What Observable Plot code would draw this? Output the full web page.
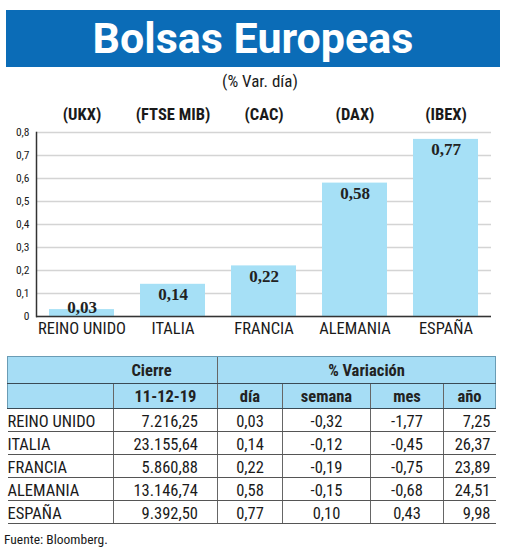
<!DOCTYPE html>
<html>
<head>
<meta charset="utf-8">
<script src="https://cdn.jsdelivr.net/npm/d3@7"></script>
<script src="https://cdn.jsdelivr.net/npm/@observablehq/plot@0.6"></script>
<style>
  html, body { margin: 0; padding: 0; background: #fff; }
  body { width: 520px; height: 552px; position: relative; overflow: hidden;
         font-family: "Roboto Condensed", Roboto, "Liberation Sans", sans-serif; color: #1a1a1a; }
  #banner { position: absolute; left: 6px; top: 10px; width: 494px; height: 57px; background: #0b6cb7;
            color: #fff; text-align: center; }
  #banner span { display: inline-block; font-family: Roboto, sans-serif; font-weight: bold; font-size: 43px; line-height: 57px; }
  #subtitle { position: absolute; left: 0; width: 520px; top: 71px; text-align: center; font-size: 17px; }
  #chart { position: absolute; left: 0; top: 95px; }
  #tbl { position: absolute; left: 7px; top: 356px; border-collapse: collapse; table-layout: fixed; width: 488px; }
  #tbl td { padding: 0; white-space: nowrap; overflow: visible; }
  #tbl tr.h td { background: #a6ddf5; font-weight: bold; font-size: 16.5px; color: #222; }
  #tbl tr.h1 td { height: 26px; border-top: 1px solid #6a9cb5; border-bottom: 1px solid #3a4a55; }
  #tbl tr.h2 td { height: 24px; border-bottom: 1.5px solid #3a4a55; }
  #tbl tr.d td { height: 22px; border-bottom: 1px solid #555; font-size: 16.5px; vertical-align: bottom; line-height: 18px; }
  #tbl td.vl { border-left: 1px solid #666; }
  #tbl tr.h td.lb { border-left: 1px solid #6a9cb5; }
  #tbl tr.h td.rb { border-right: 1px solid #6a9cb5; }
  #source { position: absolute; left: 4px; top: 531px; font-size: 13.5px; }
</style>
</head>
<body>
<div id="banner"><span>Bolsas Europeas</span></div>
<div id="subtitle">(% Var. día)</div>
<div id="chart"></div>
<table id="tbl"></table>
<div id="source">Fuente: Bloomberg.</div>
<script>
// ---- data ----
const paises = ["REINO UNIDO", "ITALIA", "FRANCIA", "ALEMANIA", "ESPAÑA"];
const indices = ["(UKX)", "(FTSE MIB)", "(CAC)", "(DAX)", "(IBEX)"];
const varDia = [0.03, 0.14, 0.22, 0.58, 0.77];
const yTicks = [0, 0.1, 0.2, 0.3, 0.4, 0.5, 0.6, 0.7, 0.8];
const cierre = [7216.25, 23155.64, 5860.88, 13146.74, 9392.50];
const varSemana = [-0.32, -0.12, -0.19, -0.15, 0.10];
const varMes = [-1.77, -0.45, -0.75, -0.68, 0.43];
const varAnio = [7.25, 26.37, 23.89, 24.51, 9.98];
const fechaCierre = "11-12-19";

const es = d3.formatLocale({decimal: ",", thousands: ".", grouping: [3], currency: ["", ""], minus: "-"});
const f2 = es.format(",.2f");
const f1 = es.format(".1f");

const data = paises.map((p, i) => ({pais: p, indice: indices[i], v: varDia[i]}));
const SANS = '"Roboto Condensed", Roboto, "Liberation Sans", sans-serif';

const chart = Plot.plot({
  width: 520, height: 250,
  marginTop: 37, marginBottom: 29, marginLeft: 36, marginRight: 29,
  style: {fontFamily: SANS, background: "transparent", overflow: "visible", color: "#1a1a1a"},
  x: {domain: paises, paddingInner: 0.286, paddingOuter: 0.143, axis: null},
  y: {domain: [0, 0.8], axis: null},
  marks: [
    Plot.gridY(yTicks, {stroke: "#d4d4d4", strokeOpacity: 1, strokeWidth: 1.5}),
    Plot.barY(data, {x: "pais", y: "v", fill: "#a6e0f6"}),
    Plot.axisY({ticks: yTicks, tickSize: 0, tickPadding: 7, fontSize: 11.5, label: null,
      tickFormat: d => d === 0 ? "0" : f1(d)}),
    Plot.axisX({anchor: "top", tickSize: 0, tickPadding: 13, fontSize: 16.5, fontWeight: "bold", label: null,
      tickFormat: p => indices[paises.indexOf(p)]}),
    Plot.axisX({anchor: "bottom", tickSize: 0, tickPadding: 6, fontSize: 16.5, label: null}),
    Plot.ruleY([0], {stroke: "#333", strokeWidth: 1.5}),
    Plot.frame({anchor: "left", stroke: "#333", strokeWidth: 1.5}),
    Plot.text(data.filter(d => d.v >= 0.1), {x: "pais", y: "v", text: d => f2(d.v),
      lineAnchor: "top", dy: 4, fontFamily: "Liberation Serif", fontWeight: "bold", fontSize: 17, fill: "#222"}),
    Plot.text(data.filter(d => d.v < 0.1), {x: "pais", y: "v", text: d => f2(d.v),
      lineAnchor: "bottom", dy: 3, fontFamily: "Liberation Serif", fontWeight: "bold", fontSize: 17, fill: "#222"})
  ]
});
document.getElementById("chart").append(chart);

// ---- table ----
const widths = [106, 104, 65, 88, 73, 52];
const tbl = d3.select("#tbl");
tbl.append("colgroup").selectAll("col").data(widths).join("col").style("width", d => d + "px");
const h1 = tbl.append("tr").attr("class", "h h1");
h1.append("td").attr("colspan", 2).attr("class", "lb").style("text-align", "center").style("padding-left", "78px").text("Cierre");
h1.append("td").attr("colspan", 4).attr("class", "vl rb").style("text-align", "center").style("padding-left", "20px").text("% Variación");
const h2 = tbl.append("tr").attr("class", "h h2");
h2.append("td").attr("class", "lb");
[fechaCierre, "día", "semana", "mes", "año"].forEach((t, i) => {
  h2.append("td").attr("class", "vl" + (i === 4 ? " rb" : "")).style("text-align", "center").text(t);
});
paises.forEach((p, i) => {
  const r = tbl.append("tr").attr("class", "d");
  r.append("td").style("text-align", "left").text(p);
  r.append("td").attr("class", "vl").style("text-align", "right").style("padding-right", "19px").text(f2(cierre[i]));
  r.append("td").attr("class", "vl").style("text-align", "center").text(f2(varDia[i]));
  r.append("td").attr("class", "vl").style("text-align", "center").text(f2(varSemana[i]));
  r.append("td").attr("class", "vl").style("text-align", "center").text(f2(varMes[i]));
  r.append("td").attr("class", "vl").style("text-align", "right").style("padding-right", "5px").text(f2(varAnio[i]));
});
</script>
</body>
</html>
